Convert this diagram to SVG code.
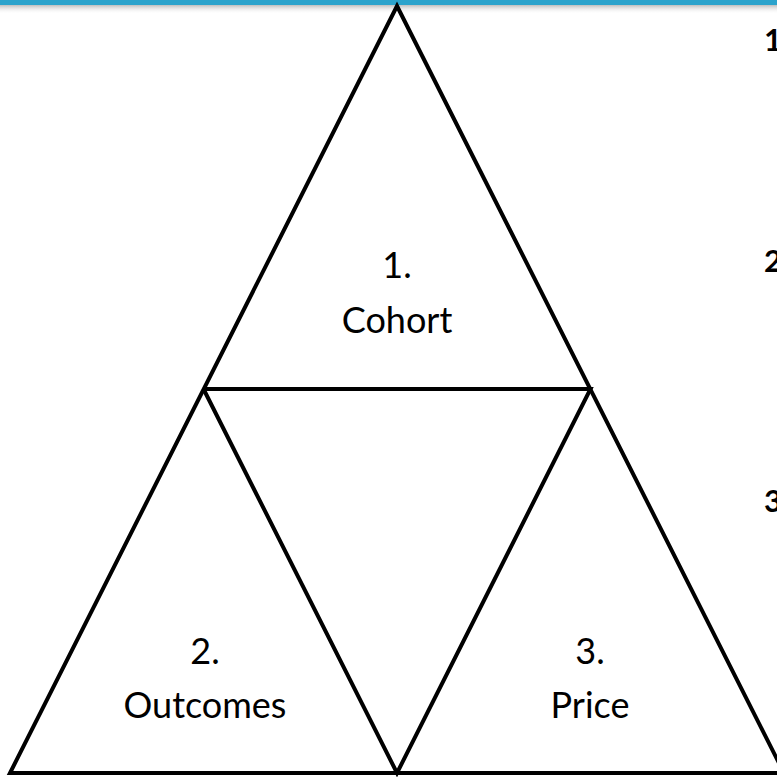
<svg xmlns="http://www.w3.org/2000/svg" width="777" height="777" viewBox="0 0 777 777">
<defs>
<linearGradient id="shadow" x1="0" y1="0" x2="0" y2="1">
<stop offset="0" stop-color="#9a9a9a" stop-opacity="0.8"/>
<stop offset="1" stop-color="#ffffff" stop-opacity="0"/>
</linearGradient>
<style>
.tri{fill:none;stroke:#000;stroke-width:4;stroke-linejoin:miter}
.lbl{font-family:Lato,"Liberation Sans",sans-serif;font-size:36px;fill:#000;text-anchor:middle}
.num{font-family:Lato,"Liberation Sans",sans-serif;font-size:31px;font-weight:bold;fill:#000}
</style>
</defs>
<rect width="777" height="777" fill="#fff"/>
<rect x="0" y="4" width="777" height="10" fill="url(#shadow)"/>
<rect x="0" y="0" width="777" height="5" fill="#2ba3cc"/>
<g id="connectors">
<polygon class="tri" points="397,6 784,773 10,773"/>
<polyline class="tri" points="203.5,389 590.5,389 397,773 203.5,389"/>
</g>
<g id="node-cohort">
<text class="lbl" x="397" y="278">1.</text>
<text class="lbl" x="397" y="333">Cohort</text>
</g>
<g id="node-outcomes">
<text class="lbl" x="205" y="664">2.</text>
<text class="lbl" x="205" y="718">Outcomes</text>
</g>
<g id="node-price">
<text class="lbl" x="590" y="664">3.</text>
<text class="lbl" x="590" y="718">Price</text>
</g>
<g id="side-numbers">
<text class="num" x="764" y="51">1</text>
<text class="num" x="764" y="272">2</text>
<text class="num" x="764" y="512">3</text>
</g>
</svg>
